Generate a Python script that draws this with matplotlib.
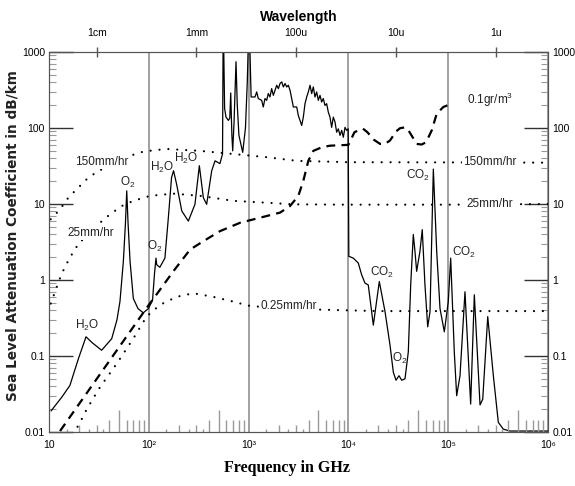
import numpy as np
import matplotlib
matplotlib.use('Agg')
import matplotlib.pyplot as plt
from matplotlib.ticker import LogLocator, NullFormatter, NullLocator, FixedLocator

plt.rcParams['font.family'] = ['Liberation Sans', 'DejaVu Sans']
plt.rcParams['mathtext.fontset'] = 'custom'
plt.rcParams['mathtext.rm'] = 'Liberation Sans'
plt.rcParams['mathtext.default'] = 'regular'

# atmospheric absorption (solid)
abs_f = [10.5, 13.4, 16.2, 19.7, 23.5, 27, 33.7, 42.5, 48, 51.4, 55.6, 58.3, 60.1, 62, 64.9, 70, 78, 88, 99,
         109, 114, 118, 120, 129, 145, 157, 169, 177, 190, 214, 249, 290, 321, 352, 380, 427, 461, 516, 548,
         557, 575, 594, 627, 648, 662, 680, 693, 715, 748, 770, 800, 873, 930, 970, 1010, 1060,
         1159, 1205, 1251, 1353, 1403, 1459, 1517, 1575, 1637, 1702, 1770, 1840, 1913, 1988, 2065, 2147,
         2230, 2318, 2410, 2502, 2601, 2704, 2808, 3035, 3150, 3274, 3404, 3535, 3675, 3821, 3967, 4124,
         4287, 4451, 4627, 4810, 4995, 5192, 5397, 5603, 5825, 6055, 6288, 6537, 6796, 7060, 7339, 7630,
         7926, 8240, 8566, 8895, 9247, 9613, 9950, 10100,
         11200, 12560, 13580, 14660, 15820, 17770, 20400, 23280, 26120, 28200, 30000, 32140, 34200, 36900,
         39830, 42090, 44700, 46450, 48300, 52100, 54950, 58500, 62330, 65740, 70960, 76700, 82800, 91450,
         100200, 105900, 115100, 121600, 131300, 147300, 167900, 182700, 208400, 221800, 249000, 283400,
         317800, 356600, 415900, 1000000]
abs_v = [0.019, 0.0286, 0.041, 0.092, 0.179, 0.15, 0.119, 0.169, 0.3, 0.52, 1.76, 5.5, 14.9, 5.5, 1.76, 0.57,
         0.42, 0.37, 0.42, 0.54, 1.2, 1.94, 1.59, 1.47, 1.94, 6.6, 22.3, 27.4, 18.2, 8.1, 5.96, 9.9, 31.9,
         12.1, 9.9, 27.4, 37, 34, 45.5,
         3000, 180, 139, 126, 135, 289, 80, 50, 120, 745, 200, 80, 47.8, 100, 400, 3000, 256,
         256, 298, 244, 231, 189, 244, 231, 284, 256, 330, 269, 314, 365, 330, 385, 404,
         347, 385, 347, 365, 314, 244, 189, 189, 146, 126, 108, 139, 209, 256, 298, 365,
         284, 347, 256, 298, 231, 269, 220, 244, 198, 209, 162, 139, 102, 139, 120, 88,
         97.5, 80, 93, 75.5, 102, 93, 97.5, 2.05,
         1.94, 1.67, 1.17, 0.91, 0.86, 0.255, 0.955, 0.383, 0.139, 0.061, 0.048, 0.055, 0.048, 0.05,
         0.113, 0.86, 3.97, 2.38, 1.3, 2.38, 4.6, 0.86, 0.242, 0.383, 28.8, 2.38, 0.42, 0.208,
         0.52, 1.94, 0.113, 0.030, 0.055, 0.7, 0.0233, 0.64, 0.0227, 0.027, 0.33, 0.055,
         0.0134, 0.0109, 0.0103, 0.0103]

# fog 0.1 gr/m3 (dashed)
fog_f = [12.9, 100, 129, 176, 259, 352, 516, 820, 1300, 2065, 2601, 3150, 3535, 3967, 4451, 5397, 6537, 10000,
         11500, 13060, 14000, 15500, 18000, 20760, 23280, 26120, 30000, 32870, 36900, 40000, 48300, 54200,
         60000, 68400, 76700, 89400, 108400]
fog_v = [0.0103, 0.47, 0.74, 1.3, 2.51, 3.24, 4.39, 5.66, 6.6, 7.7, 9.4, 12.8, 20.2, 37, 50, 55.7, 58.5, 60,
         88, 95, 98, 88, 70, 61.8, 61.8, 68.5, 90, 99.3, 102, 93, 61.8, 60.6,
         65, 93, 154, 189, 209]

# rain (dotted)
r150_f = [10.4, 12.9, 15.6, 19, 23.9, 31.2, 37.9, 50, 65, 81.7, 100, 151, 326, 703, 1517, 3035, 10000, 100000, 1000000]
r150_v = [6.3, 8.5, 12.1, 15.7, 21.2, 27.4, 30.1, 36, 43, 47.8, 50, 53, 50, 45.5, 41.3, 37, 35.5, 35.3, 35]
r25_f = [10.4, 11.5, 12.9, 14.5, 16.9, 20.5, 22.1, 32.4, 40.8, 53.5, 70, 103, 176, 326, 703, 1517, 2808,
         10000, 100000, 1000000]
r25_v = [0.49, 0.70, 1.06, 1.51, 2.16, 3.24, 3.4, 5.66, 7.3, 9.4, 11, 12.8, 13.7, 12.8, 11, 10.4, 9.9,
         9.8, 9.8, 10]
r025_f = [17, 19.7, 23.9, 32.4, 47.6, 70, 95, 129, 190, 279, 443, 703, 993, 2000, 20000, 1000000]
r025_v = [0.0095, 0.0121, 0.02, 0.0388, 0.079, 0.17, 0.33, 0.47, 0.6, 0.67, 0.6, 0.52, 0.46, 0.42, 0.39, 0.39]

wl_freq = [30, 300, 3000, 30000, 300000]
wl_labels = ['1cm', '1mm', '100u', '10u', '1u']
x_ticks = [10, 100, 1e3, 1e4, 1e5, 1e6]
x_labels = ['10', '10²', '10³', '10⁴', '10⁵', '10⁶']
y_ticks = [0.01, 0.1, 1, 10, 100, 1000]
y_labels = ['0.01', '0.1', '1', '10', '100', '1000']

# (text, freq, value)
line_notes = [('H$_2$O', 24.0, 0.256), ('O$_2$', 62, 19.5), ('O$_2$', 115, 2.8),
              ('H$_2$O', 135.5, 30.7), ('H$_2$O', 236, 40.3),
              ('CO$_2$', 21700, 1.24), ('O$_2$', 32900, 0.094),
              ('CO$_2$', 49800, 24.1), ('CO$_2$', 143900, 2.27)]
# labels that sit on the dotted lines (text, freq, value, ha)
gap_notes = [('150mm/hr', 34, 35.7, 'center'), ('25mm/hr', 26.4, 4.15, 'center'),
             ('0.25mm/hr', 1330, 0.45, 'left'), ('0.1gr/m$^3$', 154000, 233, 'left'),
             ('150mm/hr', 140600, 35.7, 'left'), ('25mm/hr', 154000, 10, 'left')]

fig = plt.figure(figsize=(5.75, 4.86), dpi=100)
ax = fig.add_axes([49 / 575, 54 / 486, 499 / 575, 380 / 486])
ax.set_xscale('log')
ax.set_yscale('log')
ax.set_xlim(10, 1e6)
ax.set_ylim(0.01, 1000)

ax.plot(abs_f, abs_v, color='black', lw=0.9)
ax.plot(fog_f, fog_v, color='black', lw=1.6, linestyle=(0, (4, 2.8)))
for f, v in [(r150_f, r150_v), (r25_f, r25_v), (r025_f, r025_v)]:
    ax.plot(f, v, color='black', lw=1.6, linestyle=(0, (0.01, 4.0)), dash_capstyle='round')

for s, f, v in line_notes:
    ax.text(f, v, s, ha='center', va='center', fontsize=8.5, color='#222')
for s, f, v, ha in gap_notes:
    ax.text(f, v, s, ha=ha, va='center', fontsize=8.5, color='#222',
            bbox=dict(facecolor='white', edgecolor='none', pad=1.0))

# axes look
for sp in ax.spines.values():
    sp.set_color('#555')
ax.xaxis.set_major_locator(FixedLocator(x_ticks))
ax.set_xticklabels(x_labels)
ax.xaxis.set_minor_locator(NullLocator())
ax.tick_params(axis='x', which='major', length=0, labelsize=7.5, pad=6)
ax.xaxis.grid(True, color='#888', lw=1.1)

ax.yaxis.set_major_locator(FixedLocator(y_ticks))
ax.set_yticklabels(y_labels)
ax.yaxis.set_minor_locator(LogLocator(base=10, subs=np.arange(2, 10), numticks=100))
ax.yaxis.set_minor_formatter(NullFormatter())
ax.tick_params(axis='y', which='major', direction='in', length=17, width=1, color='#333',
               left=True, right=True, labelleft=True, labelright=True, labelsize=7.5, pad=3)
ax.tick_params(axis='y', which='minor', direction='in', length=5, width=0.8, color='#999',
               left=True, right=True)

# bottom tick marks of varying height
decades = [10, 100, 1e3, 1e4, 1e5]
short = [1.5, 2.5, 3.5]
mid = [2, 3]
tall = [4, 6, 7, 8, 9]
for d in decades:
    ax.vlines([d * m for m in short], 0, 3 / 380, transform=ax.get_xaxis_transform(), color='#999', lw=1)
    ax.vlines([d * m for m in mid], 0, 7 / 380, transform=ax.get_xaxis_transform(), color='#999', lw=1)
    ax.vlines([d * m for m in tall], 0, 12 / 380, transform=ax.get_xaxis_transform(), color='#999', lw=1)
    ax.vlines([d * 5], 0, 22 / 380, transform=ax.get_xaxis_transform(), color='#999', lw=1)

# wavelength axis on top
ax2 = ax.twiny()
ax2.set_xscale('log')
ax2.set_xlim(ax.get_xlim())
ax2.xaxis.set_major_locator(FixedLocator(wl_freq))
ax2.set_xticklabels(wl_labels)
ax2.xaxis.set_minor_locator(NullLocator())
ax2.tick_params(axis='x', direction='inout', length=7, width=1, color='#555', labelsize=7.5, pad=6.5)
ax2.set_xlabel('Wavelength', fontsize=10, fontweight='bold', labelpad=5)
for sp in ax2.spines.values():
    sp.set_color('#555')

fig.text(13 / 575, 1 - 236 / 486, 'Sea Level Attenuation Coefficient in dB/km', rotation=90,
         ha='center', va='center', fontsize=9.8, fontweight='bold', family='DejaVu Sans', color='#222')
fig.text(286.5 / 575, 1 - 468 / 486, 'Frequency in GHz', ha='center', va='center',
         fontsize=11.5, fontweight='bold', family='Liberation Serif')

fig.savefig('out.png', dpi=100)
